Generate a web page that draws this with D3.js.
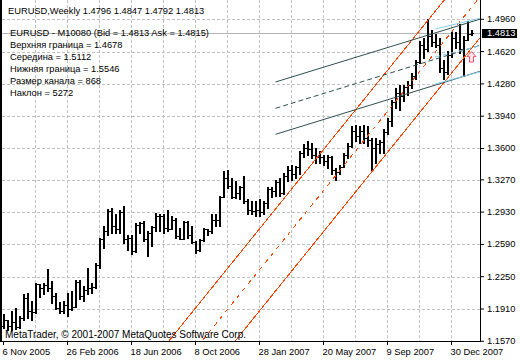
<!DOCTYPE html>
<html lang="ru">
  <head>
    <meta charset="utf-8" />
    <title>EURUSD Weekly</title>
    <script src="https://d3js.org/d3.v7.min.js"></script>
    <style>
      body { margin: 0; background: #fff; }
      text { font-family: "Liberation Sans", Arial, sans-serif; font-size: 9.3px; fill: #000; }
    </style>
  </head>
  <body>
    <div id="container"></div>
    <script>
      var width = 520;
      var height = 360;
      var plotLeft = 0, plotRight = 481, plotTop = 0, plotBottom = 341.5;

      // weekly bars, first one is the week of 6 Nov 2005
      var startWeek = "2005-11-06";

      var opens = [
        1.1731, 1.1784, 1.1724, 1.1773, 1.1713, 1.1810, 1.2023, 1.1882, 1.1875, 1.2163,
        1.2128, 1.2155, 1.2121, 1.2040, 1.1918, 1.1882, 1.1942, 1.1900, 1.1931, 1.2194,
        1.2040, 1.2110, 1.2128, 1.2137, 1.2373, 1.2644, 1.2726, 1.2934, 1.2777, 1.2742,
        1.2931, 1.2637, 1.2654, 1.2513, 1.2794, 1.2812, 1.2644, 1.2710, 1.2773, 1.2882,
        1.2889, 1.2760, 1.2749, 1.2847, 1.2671, 1.2644, 1.2819, 1.2689, 1.2605, 1.2531,
        1.2630, 1.2742, 1.2721, 1.2847, 1.2840, 1.3089, 1.3289, 1.3198, 1.3079, 1.3128,
        1.3191, 1.3040, 1.2952, 1.2934, 1.2952, 1.2921, 1.3023, 1.3163, 1.3145, 1.3244,
        1.3128, 1.3303, 1.3373, 1.3321, 1.3395, 1.3552, 1.3605, 1.3584, 1.3531, 1.3510,
        1.3500, 1.3458, 1.3500, 1.3373, 1.3342, 1.3405, 1.3531, 1.3626, 1.3784, 1.3731,
        1.3784, 1.3700, 1.3679, 1.3605, 1.3637, 1.3668, 1.3763, 1.3889, 1.4079, 1.4184,
        1.4142, 1.4237, 1.4268, 1.4363, 1.4510, 1.4689, 1.4637, 1.4784, 1.4721, 1.4689,
        1.4437, 1.4405, 1.4584, 1.4763, 1.4721, 1.4637, 1.4742, 1.4796
      ];
      var highs = [
        1.1847, 1.1794, 1.1882, 1.1918, 1.1829, 1.2065, 1.2075, 1.1987, 1.2181, 1.2170,
        1.2181, 1.2331, 1.2198, 1.2075, 1.1977, 1.1987, 1.2075, 1.2092, 1.2215, 1.2215,
        1.2145, 1.2339, 1.2181, 1.2391, 1.2654, 1.2777, 1.2960, 1.2970, 1.2900, 1.2942,
        1.2987, 1.2689, 1.2689, 1.2805, 1.2819, 1.2829, 1.2724, 1.2777, 1.2918, 1.2907,
        1.2900, 1.2952, 1.2882, 1.2865, 1.2760, 1.2829, 1.2826, 1.2777, 1.2619, 1.2637,
        1.2760, 1.2752, 1.2900, 1.2900, 1.3092, 1.3356, 1.3366, 1.3286, 1.3250, 1.3198,
        1.3303, 1.3058, 1.3037, 1.3040, 1.3065, 1.3040, 1.3189, 1.3191, 1.3258, 1.3289,
        1.3339, 1.3408, 1.3419, 1.3408, 1.3566, 1.3637, 1.3671, 1.3655, 1.3602, 1.3566,
        1.3531, 1.3531, 1.3513, 1.3391, 1.3426, 1.3549, 1.3655, 1.3829, 1.3847, 1.3829,
        1.3847, 1.3829, 1.3707, 1.3707, 1.3689, 1.3795, 1.3918, 1.4110, 1.4234, 1.4268,
        1.4268, 1.4303, 1.4391, 1.4531, 1.4724, 1.4760, 1.4953, 1.4847, 1.4795, 1.4763,
        1.4531, 1.4616, 1.4816, 1.4816, 1.4900, 1.4777, 1.4935, 1.4847
      ];
      var lows = [
        1.1710, 1.1684, 1.1679, 1.1694, 1.1700, 1.1794, 1.1812, 1.1784, 1.1865, 1.2029,
        1.2058, 1.2092, 1.1970, 1.1900, 1.1865, 1.1865, 1.1829, 1.1890, 1.1925, 1.2005,
        1.1987, 1.2058, 1.2075, 1.2128, 1.2339, 1.2549, 1.2689, 1.2707, 1.2707, 1.2707,
        1.2602, 1.2531, 1.2479, 1.2500, 1.2707, 1.2619, 1.2461, 1.2566, 1.2724, 1.2724,
        1.2707, 1.2724, 1.2742, 1.2654, 1.2637, 1.2637, 1.2654, 1.2602, 1.2497, 1.2513,
        1.2619, 1.2689, 1.2710, 1.2777, 1.2777, 1.3080, 1.3181, 1.3076, 1.3076, 1.3058,
        1.3016, 1.2910, 1.2900, 1.2882, 1.2889, 1.2900, 1.2970, 1.3084, 1.3094, 1.3092,
        1.3120, 1.3250, 1.3268, 1.3286, 1.3321, 1.3500, 1.3531, 1.3497, 1.3444, 1.3444,
        1.3426, 1.3391, 1.3321, 1.3263, 1.3321, 1.3398, 1.3497, 1.3610, 1.3671, 1.3655,
        1.3655, 1.3619, 1.3358, 1.3444, 1.3549, 1.3549, 1.3752, 1.3829, 1.4023, 1.4005,
        1.4092, 1.4163, 1.4234, 1.4321, 1.4497, 1.4549, 1.4619, 1.4671, 1.4658, 1.4405,
        1.4321, 1.4384, 1.4563, 1.4655, 1.4602, 1.4356, 1.4735, 1.4792
      ];
      var closes = [
        1.1784, 1.1724, 1.1773, 1.1713, 1.1810, 1.2023, 1.1882, 1.1875, 1.2163, 1.2128,
        1.2155, 1.2121, 1.2040, 1.1918, 1.1882, 1.1942, 1.1900, 1.1931, 1.2194, 1.2040,
        1.2110, 1.2128, 1.2137, 1.2373, 1.2644, 1.2726, 1.2934, 1.2777, 1.2742, 1.2931,
        1.2637, 1.2654, 1.2513, 1.2794, 1.2812, 1.2644, 1.2710, 1.2773, 1.2882, 1.2889,
        1.2760, 1.2749, 1.2847, 1.2671, 1.2644, 1.2819, 1.2689, 1.2605, 1.2531, 1.2630,
        1.2742, 1.2721, 1.2847, 1.2840, 1.3089, 1.3289, 1.3198, 1.3079, 1.3128, 1.3191,
        1.3040, 1.2952, 1.2934, 1.2952, 1.2921, 1.3023, 1.3163, 1.3145, 1.3244, 1.3128,
        1.3303, 1.3373, 1.3321, 1.3395, 1.3552, 1.3605, 1.3584, 1.3531, 1.3510, 1.3500,
        1.3458, 1.3500, 1.3373, 1.3342, 1.3405, 1.3531, 1.3626, 1.3784, 1.3731, 1.3784,
        1.3700, 1.3679, 1.3605, 1.3637, 1.3668, 1.3763, 1.3889, 1.4079, 1.4184, 1.4142,
        1.4237, 1.4268, 1.4363, 1.4510, 1.4689, 1.4637, 1.4784, 1.4721, 1.4689, 1.4437,
        1.4405, 1.4584, 1.4763, 1.4721, 1.4637, 1.4742, 1.4805, 1.4813
      ];

      var xLabels = ["6 Nov 2005", "26 Feb 2006", "18 Jun 2006", "8 Oct 2006",
                     "28 Jan 2007", "20 May 2007", "9 Sep 2007", "30 Dec 2007"];
      var yTicks = [1.1570, 1.1910, 1.2250, 1.2590, 1.2930, 1.3270,
                    1.3600, 1.3940, 1.4280, 1.4620, 1.4960];
      var bid = 1.4813;

      var title = "EURUSD,Weekly  1.4796 1.4847 1.4792 1.4813";
      var infoLines = [
        "EURUSD - M10080 (Bid = 1.4813 Ask = 1.4815)",
        "Верхняя граница = 1.4678",
        "Середина = 1.5112",
        "Нижняя граница = 1.5546",
        "Размер канала = 868",
        "Наклон = 5272"
      ];
      var copyright = "MetaTrader, © 2001-2007 MetaQuotes Software Corp.";

      // channel lines as [week, price] end points
      var orangeUpper = [[40, 1.1503], [125, 1.5935]];
      var orangeMiddle = [[40, 1.1071], [125, 1.5503]];
      var orangeLower = [[40, 1.0639], [125, 1.5071]];
      var darkUpper = [[68, 1.4300], [119.4, 1.4965]];
      var darkMiddle = [[68, 1.4023], [119.4, 1.4689]];
      var darkLower = [[68, 1.3749], [119.4, 1.4416]];
      var blueUpper = [[107.9, 1.4858], [119.4, 1.4974]];
      var blueMiddle = [[107.9, 1.4563], [119.4, 1.4684]];
      var blueLower = [[107.9, 1.4279], [119.4, 1.4410]];
      var arrowMark = { week: 117, price: 1.4620 };

      var svg = d3
        .select("#container")
        .append("svg")
        .attr("width", width)
        .attr("height", height);

      var x = d3.scaleLinear().domain([0, 117]).range([3.5, 471.5]);
      var y = d3.scaleLinear().domain([1.157, 1.496]).range([341.3, 19.3]);

      svg.append("defs").append("clipPath").attr("id", "plot")
        .append("rect")
        .attr("x", plotLeft)
        .attr("y", plotTop)
        .attr("width", plotRight - plotLeft)
        .attr("height", plotBottom - plotTop);

      // grid
      var grid = svg.append("g")
        .attr("stroke", "#c0c0c0")
        .attr("stroke-dasharray", "3,2")
        .attr("shape-rendering", "crispEdges");

      grid.selectAll(".hgrid")
        .data(yTicks.slice(1))
        .enter()
        .append("line")
        .attr("x1", plotLeft + 2)
        .attr("x2", plotRight)
        .attr("y1", function (d) { return Math.round(y(d)) + 0.5; })
        .attr("y2", function (d) { return Math.round(y(d)) + 0.5; });

      grid.selectAll(".vgrid")
        .data(d3.range(8, 118, 8))
        .enter()
        .append("line")
        .attr("x1", function (d) { return x(d); })
        .attr("x2", function (d) { return x(d); })
        .attr("y1", plotTop)
        .attr("y2", plotBottom);

      // bid line
      svg.append("line")
        .attr("x1", plotLeft)
        .attr("x2", plotRight)
        .attr("y1", Math.round(y(bid)) + 0.5)
        .attr("y2", Math.round(y(bid)) + 0.5)
        .attr("stroke", "#b4b4b4")
        .attr("shape-rendering", "crispEdges");

      // OHLC bars
      var bars = svg.append("g").attr("fill", "#000").attr("shape-rendering", "crispEdges");
      var idx = d3.range(closes.length);

      bars.selectAll(".hl")
        .data(idx)
        .enter()
        .append("rect")
        .attr("x", function (i) { return x(i) - 0.5; })
        .attr("y", function (i) { return Math.floor(y(highs[i])); })
        .attr("width", 2)
        .attr("height", function (i) {
          return Math.max(1, Math.ceil(y(lows[i])) - Math.floor(y(highs[i])));
        });

      bars.selectAll(".open")
        .data(idx)
        .enter()
        .append("rect")
        .attr("x", function (i) { return x(i) - 1.5; })
        .attr("y", function (i) { return Math.floor(y(opens[i])); })
        .attr("width", 1)
        .attr("height", 1);

      bars.selectAll(".close")
        .data(idx)
        .enter()
        .append("rect")
        .attr("x", function (i) { return x(i) + 1.5; })
        .attr("y", function (i) { return Math.floor(y(closes[i])); })
        .attr("width", 1)
        .attr("height", 1);

      // channels
      var line = d3.line()
        .x(function (d) { return x(d[0]); })
        .y(function (d) { return y(d[1]); });

      var channels = svg.append("g").attr("clip-path", "url(#plot)").attr("fill", "none");

      function drawLine(pts, color, dash, crisp) {
        channels.append("path")
          .attr("d", line(pts))
          .attr("stroke", color)
          .attr("stroke-width", 1)
          .attr("stroke-dasharray", dash)
          .attr("shape-rendering", crisp ? "crispEdges" : null);
      }

      drawLine(orangeUpper, "#ff4500", null, true);
      drawLine(orangeMiddle, "#ff4500", "4,5", true);
      drawLine(orangeLower, "#ff4500", null, true);
      drawLine(darkUpper, "#2f4f4f", null, false);
      drawLine(darkMiddle, "#2f4f4f", "5,3", false);
      drawLine(darkLower, "#2f4f4f", null, false);
      drawLine(blueUpper, "#87ceeb", null, false);
      drawLine(blueMiddle, "#87ceeb", "5,3", false);
      drawLine(blueLower, "#87ceeb", null, false);

      // up arrow
      var ax = x(arrowMark.week);
      var ay = y(arrowMark.price);
      svg.append("path")
        .attr("d", "M" + (ax - 4.5) + "," + (ay + 5) + "L" + ax + "," + ay + "L" + (ax + 4.5) + "," + (ay + 5) +
          "L" + (ax + 2) + "," + (ay + 5) + "L" + (ax + 2) + "," + (ay + 10.5) + "L" + (ax - 2) + "," + (ay + 10.5) +
          "L" + (ax - 2) + "," + (ay + 5) + "Z")
        .attr("fill", "#ffe4e8")
        .attr("stroke", "#f0506e")
        .attr("stroke-width", 1);

      // frame
      var frame = svg.append("g").attr("stroke", "#000").attr("shape-rendering", "crispEdges");
      frame.append("line").attr("x1", 1).attr("x2", 1).attr("y1", plotTop).attr("y2", plotBottom + 0.5).attr("stroke-width", 2);
      frame.append("line").attr("x1", plotLeft).attr("x2", plotRight).attr("y1", plotBottom).attr("y2", plotBottom);
      frame.append("line").attr("x1", plotRight - 0.5).attr("x2", plotRight - 0.5).attr("y1", plotTop).attr("y2", plotBottom + 0.5);

      // axes
      var yAxis = svg.append("g")
        .attr("transform", "translate(" + plotRight + ",0)")
        .call(d3.axisRight(y).tickValues(yTicks).tickFormat(d3.format(".4f")).tickSize(3).tickPadding(3).offset(0));
      yAxis.select(".domain").remove();

      var parseWeek = d3.utcParse("%Y-%m-%d");
      var parseLabel = d3.utcParse("%d %b %Y");
      var xLabelIdx = xLabels.map(function (s) {
        return d3.utcWeek.count(parseWeek(startWeek), parseLabel(s));
      });

      var xAxis = svg.append("g")
        .attr("transform", "translate(0," + (plotBottom - 0.5) + ")")
        .call(d3.axisBottom(x).tickValues(xLabelIdx)
          .tickFormat(function (d, i) { return xLabels[i]; })
          .tickSize(4).tickPadding(3).offset(0));
      xAxis.select(".domain").remove();
      xAxis.selectAll("text").attr("text-anchor", "start").attr("dx", -1);

      // bid price label
      svg.append("rect")
        .attr("x", plotRight + 1)
        .attr("y", Math.round(y(bid)) - 4)
        .attr("width", 35)
        .attr("height", 9)
        .attr("fill", "#000");
      svg.append("text")
        .attr("x", plotRight + 6)
        .attr("y", y(bid))
        .attr("dy", "0.34em")
        .style("fill", "#fff")
        .text(d3.format(".4f")(bid));

      // texts
      svg.append("text").attr("x", 8).attr("y", 13.5).text(title);

      svg.selectAll(".info")
        .data(infoLines)
        .enter()
        .append("text")
        .attr("x", 10)
        .attr("y", function (d, i) { return 36 + i * 12; })
        .text(function (d) { return d; });

      svg.append("text")
        .attr("x", 5)
        .attr("y", 337.5)
        .style("font-size", "10px")
        .text(copyright);
    </script>
  </body>
</html>
